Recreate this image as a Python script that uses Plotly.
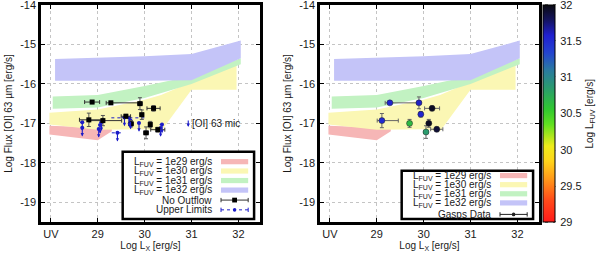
import plotly.graph_objects as go

# ---------------- data ----------------
x_tick_vals = [28, 29, 30, 31, 32]
x_tick_text = ["UV", "29", "30", "31", "32"]
y_tick_vals = [-14, -15, -16, -17, -18, -19]
y_tick_text = ["-14", "-15", "-16", "-17", "-18", "-19"]

band_names = ["L<sub>FUV</sub> = 1e29 erg/s", "L<sub>FUV</sub> = 1e30 erg/s",
              "L<sub>FUV</sub> = 1e31 erg/s", "L<sub>FUV</sub> = 1e32 erg/s"]
band_colors = ["#f6b6b6", "#fbf7b4", "#c2f2c2", "#c4c4f8"]

band29_x = [27.97, 29.0, 29.3]
band29_hi = [-17.06, -17.10, -17.12]
band29_lo = [-17.28, -17.43, -17.20]

band30_x = [27.97, 29.0, 30.0, 30.35, 31.0, 31.96]
band30_hi = [-16.73, -16.65, -16.40, -16.28, -15.95, -15.45]
band30_lo = [-17.03, -17.16, -17.15, -17.20, -16.15, -16.15]

band31_x = [28.04, 29.0, 30.0, 31.0, 32.05]
band31_hi = [-16.32, -16.28, -16.05, -15.80, -15.35]
band31_lo = [-16.63, -16.60, -16.36, -16.00, -15.50]

band32_x = [28.09, 29.0, 30.0, 31.0, 32.05]
band32_hi = [-15.37, -15.34, -15.30, -15.24, -14.90]
band32_lo = [-15.92, -15.92, -15.92, -15.91, -15.35]

# No outflow sources
nof_x = [28.88, 29.28, 29.90, 30.19, 29.94, 29.60, 28.81, 29.11, 29.71, 30.12, 30.28, 30.03]
nof_y = [-16.46, -16.48, -16.50, -16.62, -16.78, -16.82, -16.91, -16.93, -17.01, -17.03, -17.16, -17.24]
nof_xm = [0.16, 0.10, 0.05, 0.14, 0.04, 0.10, 0.20, 0.28, 0.05, 0.03, 0.15, 0.05]
nof_xp = [0.16, 0.62, 0.05, 0.14, 0.04, 0.10, 0.30, 0.40, 0.05, 0.03, 0.15, 0.05]
nof_ye = [0.04, 0.04, 0.15, 0.07, 0.12, 0.05, 0.17, 0.13, 0.08, 0.08, 0.06, 0.15]

# Upper limits
ul_x = [28.67, 28.67, 29.08, 29.05, 29.02, 29.42, 29.57, 29.67, 29.70, 29.88, 30.37, 30.34]
ul_y = [-16.97, -17.11, -16.97, -17.04, -17.14, -17.24, -16.85, -16.86, -16.93, -16.99, -17.03, -17.12]
ul_xe = [0.05, 0.03, 0.05, 0.04, 0.03, 0.12, 0.05, 0.38, 0.04, 0.04, 0.05, 0.04]
ul_arrow = 0.22

# GASPS data (coloured by log L_FUV)
g_x = [29.28, 29.90, 30.18, 29.94, 29.11, 29.70, 30.11, 30.28, 30.05]
g_y = [-16.48, -16.48, -16.62, -16.77, -16.93, -17.00, -17.00, -17.15, -17.22]
g_xm = [0.10, 0.04, 0.16, 0.04, 0.10, 0.04, 0.04, 0.13, 0.04]
g_xp = [0.62, 0.04, 0.16, 0.04, 0.35, 0.04, 0.04, 0.13, 0.04]
g_ye = [0.04, 0.15, 0.06, 0.07, 0.18, 0.10, 0.10, 0.06, 0.16]
g_lfuv = [31.55, 31.6, 31.95, 31.55, 31.5, 30.65, 31.95, 31.9, 30.85]

cbar_vals = [29, 29.5, 30, 30.5, 31, 31.5, 32]
cbar_text = ["29", "29.5", "30", "30.5", "31", "31.5", "32"]

# ---------------- figure ----------------
FONT = "Liberation Sans, Arial, sans-serif"
TXT = "#1a1a1a"
BLUE = "#1c1cc8"

W, H = 600, 254
yd = [(254 - 222) / H, 1 - 5 / H]
xd1 = [41 / W, 260 / W]
xd2 = [320 / W, 539 / W]

fig = go.Figure()

bands = [(band29_x, band29_hi, band29_lo), (band30_x, band30_hi, band30_lo),
         (band31_x, band31_hi, band31_lo), (band32_x, band32_hi, band32_lo)]

for xa, ya in (("x", "y"), ("x2", "y2")):
    for (bx, hi, lo), col in zip(bands, band_colors):
        fig.add_trace(go.Scatter(x=list(bx) + list(bx)[::-1], y=list(hi) + list(lo)[::-1],
                                 fill="toself", fillcolor=col, mode="lines",
                                 line=dict(width=0, color=col), hoverinfo="skip",
                                 showlegend=False, xaxis=xa, yaxis=ya))

# upper limits dashed x-bars
dx, dy = [], []
for x, y, e in zip(ul_x, ul_y, ul_xe):
    dx += [x - e, x + e, None]
    dy += [y, y, None]
fig.add_trace(go.Scatter(x=dx, y=dy, mode="lines", line=dict(color=BLUE, width=1, dash="dot"),
                         showlegend=False, hoverinfo="skip", xaxis="x", yaxis="y"))
fig.add_trace(go.Scatter(x=ul_x, y=ul_y, mode="markers",
                         marker=dict(color=BLUE, size=4, symbol="circle"),
                         showlegend=False, xaxis="x", yaxis="y"))
for x, y in zip(ul_x, ul_y):
    fig.add_annotation(x=x, y=y - ul_arrow, ax=0, ay=-9, xref="x", yref="y", axref="pixel", ayref="pixel",
                       showarrow=True, arrowhead=2, arrowsize=0.6, arrowwidth=1.1, arrowcolor=BLUE, text="")

# no outflow
fig.add_trace(go.Scatter(x=nof_x, y=nof_y, mode="markers",
                         marker=dict(color="black", size=5, symbol="square"),
                         error_x=dict(type="data", symmetric=False, array=nof_xp, arrayminus=nof_xm,
                                      color="#333", thickness=1, width=2),
                         error_y=dict(type="data", array=nof_ye, color="#555", thickness=1, width=2),
                         showlegend=False, xaxis="x", yaxis="y"))

# [OI] 63 mic label in the left panel
fig.add_annotation(x=30.93, y=-17.09, ax=0, ay=-8, xref="x", yref="y", axref="pixel", ayref="pixel",
                   showarrow=True, arrowhead=2, arrowsize=0.6, arrowwidth=1.1, arrowcolor=BLUE, text="")
fig.add_annotation(x=30.97, y=-17.0, xref="x", yref="y", text="[OI] 63 mic", showarrow=False,
                   xanchor="left", yanchor="middle", font=dict(family=FONT, size=10, color=TXT))

colorscale = [
    [0.0, "#ff1a1a"], [0.1, "#ff4a1a"], [0.2, "#ff9a1a"], [0.28, "#ffd41a"],
    [0.35, "#eeec1a"], [0.45, "#60e020"], [0.52, "#30c830"], [0.62, "#2a9a70"],
    [0.70, "#2a7aa0"], [0.78, "#2444d0"], [0.86, "#2020d0"], [0.93, "#141460"], [1.0, "#0a0a10"]]

CB_X0 = 544
CB_T = 12
fig.add_trace(go.Scatter(x=g_x, y=g_y, mode="markers",
                         marker=dict(color=g_lfuv, colorscale=colorscale, cmin=29, cmax=32, size=6,
                                     line=dict(width=0.5, color="#222"),
                                     colorbar=dict(x=(CB_X0 - 1) / W, xanchor="left", xpad=0, ypad=0,
                                                   y=yd[0], yanchor="bottom", len=yd[1] - yd[0], lenmode="fraction",
                                                   thickness=CB_T, thicknessmode="pixels",
                                                   outlinewidth=1, outlinecolor="black",
                                                   tickvals=cbar_vals, ticktext=cbar_text,
                                                   ticks="outside", ticklen=3, tickcolor="white",
                                                   ticklabeloverflow="allow",
                                                   tickfont=dict(family=FONT, size=11, color=TXT))),
                         error_x=dict(type="data", symmetric=False, array=g_xp, arrayminus=g_xm,
                                      color="#666", thickness=1, width=2),
                         error_y=dict(type="data", array=g_ye, color="#666", thickness=1, width=2),
                         showlegend=False, xaxis="x2", yaxis="y2"))

fig.add_annotation(xref="paper", yref="paper", x=597 / W, y=(yd[0] + yd[1]) / 2,
                   text="Log L<sub>FUV</sub> [erg/s]", textangle=-90, showarrow=False,
                   xanchor="right", yanchor="middle", font=dict(family=FONT, size=10, color=TXT))

axis_common = dict(showline=True, linecolor="black", linewidth=2.5, mirror="ticks",
                   ticks="inside", ticklen=4, tickwidth=1, tickcolor="black",
                   showgrid=True, gridcolor="#c4c4c4", griddash="dot", gridwidth=1,
                   zeroline=False, ticklabeloverflow="allow", automargin=False,
                   tickfont=dict(family=FONT, size=11, color=TXT))

xcommon = dict(axis_common, range=[27.79, 32.46], tickvals=x_tick_vals, ticktext=x_tick_text,
               title=dict(text="Log L<sub>X</sub> [erg/s]", font=dict(family=FONT, size=10, color=TXT), standoff=2))
ycommon = dict(axis_common, range=[-19.5, -14], tickvals=y_tick_vals, ticktext=y_tick_text)

fig.update_layout(
    width=W, height=H, margin=dict(l=0, r=0, t=0, b=0, autoexpand=False),
    paper_bgcolor="white", plot_bgcolor="white", showlegend=False,
    xaxis=dict(xcommon, domain=xd1, anchor="y"),
    yaxis=dict(ycommon, domain=yd, anchor="x",
               title=dict(text="Log Flux [OI] 63 µm [erg/s]", font=dict(family=FONT, size=10, color=TXT), standoff=6)),
    xaxis2=dict(xcommon, domain=xd2, anchor="y2"),
    yaxis2=dict(ycommon, domain=yd, anchor="x2",
                title=dict(text="Log Flux [OI] 63 µm [erg/s]", font=dict(family=FONT, size=10, color=TXT), standoff=6)),
)

# colorbar inner tick marks (decoration at each colorbar tick)
for v in cbar_vals:
    yy = yd[0] + (v - 29) / 3 * (yd[1] - yd[0])
    for xa, xb in ((CB_X0 + 1, CB_X0 + 4), (CB_X0 + CB_T - 3, CB_X0 + CB_T)):
        fig.add_shape(type="line", xref="paper", yref="paper", x0=xa / W, x1=xb / W, y0=yy, y1=yy,
                      line=dict(color="black", width=1), layer="above")

# ---------------- custom keys ----------------
def add_key(xref, yref, box, rows, samples):
    x0, x1, y0, y1 = box
    fig.add_shape(type="rect", xref=xref, yref=yref, x0=x0, x1=x1, y0=y0, y1=y1,
                  line=dict(color="black", width=2.5), fillcolor="white", layer="above")
    sx0, sx1, tx = 0.822, 0.946, 0.788
    for (label, yy), smp in zip(rows, samples):
        fig.add_annotation(xref=xref, yref=yref, x=tx, y=yy, text=label, showarrow=False,
                           xanchor="right", yanchor="middle", font=dict(family=FONT, size=10, color=TXT))
        kind, col = smp
        if kind == "fill":
            fig.add_shape(type="rect", xref=xref, yref=yref, x0=sx0, x1=sx1, y0=yy - 0.012, y1=yy + 0.012,
                          line=dict(width=0), fillcolor=col, layer="above")
        else:
            dash = "dot" if kind == "ul" else "solid"
            fig.add_shape(type="line", xref=xref, yref=yref, x0=sx0, x1=sx1, y0=yy, y1=yy,
                          line=dict(color=col, width=1, dash=dash), layer="above")
            for xe in (sx0, sx1):
                fig.add_shape(type="line", xref=xref, yref=yref, x0=xe, x1=xe, y0=yy - 0.01, y1=yy + 0.01,
                              line=dict(color=col, width=1), layer="above")
            xm = (sx0 + sx1) / 2
            if kind == "sq":
                fig.add_shape(type="rect", xref=xref, yref=yref, x0=xm - 0.011, x1=xm + 0.011,
                              y0=yy - 0.011, y1=yy + 0.011, line=dict(width=0), fillcolor="black", layer="above")
            else:
                fig.add_shape(type="circle", xref=xref, yref=yref, x0=xm - 0.008, x1=xm + 0.008,
                              y0=yy - 0.009, y1=yy + 0.009, line=dict(width=0), fillcolor=col, layer="above")

left_rows = list(zip(band_names + ["No Outflow", "Upper Limits"],
                     [0.278, 0.235, 0.191, 0.147, 0.101, 0.056]))
left_samples = [("fill", c) for c in band_colors] + [("sq", "#333"), ("ul", BLUE)]
add_key("x domain", "y domain", (0.373, 0.973, 0.014, 0.324), left_rows, left_samples)

right_rows = list(zip(band_names + ["Gasps Data"], [0.214, 0.172, 0.130, 0.088, 0.035]))
right_samples = [("fill", c) for c in band_colors] + [("dot", "#222")]
add_key("x2 domain", "y2 domain", (0.373, 0.973, 0.014, 0.236), right_rows, right_samples)

fig.write_html("out.html", config={"displayModeBar": False},
               post_script="document.body.style.margin='0';")
